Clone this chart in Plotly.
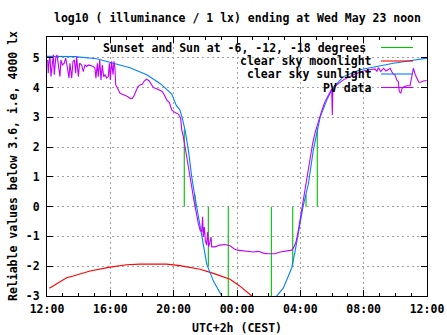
import pandas as pd
import plotly.graph_objects as go

BASE = pd.Timestamp("2018-05-22 12:00")

# ---------------- data (hours after Tue 12:00, log10 lux) ----------------
sun_hours = [0.0, 1.77, 3.14, 3.98, 5.24, 6.30, 7.14, 7.66, 7.88, 8.15, 8.40, 8.53, 8.72,
             8.93, 9.14, 9.35, 9.56, 9.77, 10.09, 10.51, 11.04, 11.56, 12.82, 14.09,
             14.51, 14.93, 15.46, 15.67, 15.84, 15.98, 16.17, 16.51, 16.82, 17.14, 17.25,
             17.67, 18.07, 18.72, 19.77, 20.83, 21.88, 22.93, 24.0]
sun_values = [5.05, 5.04, 4.97, 4.86, 4.67, 4.43, 4.14, 3.89, 3.78, 3.42, 3.24, 3.0, 2.57,
              1.9, 1.0, 0.31, -0.36, -0.92, -1.93, -2.5, -3.0, -3.4, -3.8, -3.6,
              -3.0, -2.73, -2.05, -1.49, -1.04, -0.58, 0.0, 0.77, 1.9, 2.68, 3.0,
              3.58, 4.0, 4.37, 4.60, 4.71, 4.82, 4.90, 4.99]

moon_hours = [0.15, 0.82, 1.24, 1.66, 2.51, 2.72, 3.98, 5.03, 5.87, 7.56, 8.40, 9.67,
              10.51, 11.56, 12.19, 12.93, 13.46]
moon_values = [-2.74, -2.53, -2.39, -2.33, -2.19, -2.16, -2.03, -1.95, -1.93, -1.93, -1.98,
               -2.1, -2.24, -2.44, -2.67, -3.0, -3.3]

event_hours = [8.67, 9.35, 10.19, 11.45, 14.17, 15.52, 16.36, 17.07]
event_levels = [2.6, 0.4, -2.0, -3.5, -3.5, -2.0, 0.4, 2.65]

pv_hours = [0.04, 0.08, 0.13, 0.19, 0.25, 0.34, 0.40, 0.46, 0.55, 0.63, 0.72, 0.82, 0.88,
            0.97, 1.09, 1.18, 1.26, 1.39, 1.45, 1.56, 1.64, 1.73, 1.81, 1.87, 1.98, 2.06,
            2.19, 2.29, 2.40, 2.51, 2.61, 2.78, 2.93, 3.03, 3.09, 3.18, 3.24, 3.33, 3.41,
            3.49, 3.58, 3.66, 3.77, 3.87, 3.94, 4.00, 4.08, 4.17, 4.23, 4.29, 4.34, 4.46,
            4.61, 4.76, 4.93, 5.09, 5.24, 5.39, 5.52, 5.60, 5.73, 5.87, 6.02, 6.15, 6.29,
            6.44, 6.57, 6.72, 6.93, 7.14, 7.28, 7.41, 7.56, 7.73, 7.88, 8.09, 8.30, 8.44,
            8.51, 8.61, 8.72, 8.82, 8.93, 9.03, 9.14, 9.24, 9.35, 9.46, 9.56, 9.67, 9.77,
            9.83, 9.87, 9.94, 10.0, 10.08, 10.15, 10.21, 10.36, 10.40, 10.61, 10.93, 11.24,
            11.56, 11.81, 12.02, 12.40, 12.82, 13.03, 13.35, 13.67, 13.98, 14.40, 14.72,
            15.14, 15.46, 15.60, 15.73, 15.84, 15.94, 16.05, 16.19, 16.34, 16.47, 16.61,
            16.78, 16.95, 17.16, 17.25, 17.37, 17.56, 17.88, 17.98, 18.02, 18.06, 18.30,
            18.72, 19.35, 19.98, 20.40, 20.72, 20.83, 20.93, 21.08, 21.25, 21.41, 21.56,
            21.67, 21.77, 21.88, 21.98, 22.09, 22.19, 22.25, 22.34, 22.43, 22.55, 22.72,
            22.93, 23.04, 23.14, 23.25, 23.35, 23.48, 23.60, 23.77, 23.98]
pv_values = [4.93, 4.48, 4.88, 5.04, 4.37, 4.93, 5.10, 4.43, 4.99, 5.10, 4.76, 4.37, 4.93,
             4.76, 4.82, 4.99, 4.76, 4.32, 4.82, 4.32, 4.88, 4.93, 4.48, 5.04, 4.37, 4.82,
             4.76, 4.54, 4.76, 4.71, 4.76, 4.74, 4.71, 4.65, 4.32, 4.82, 4.37, 4.93, 4.26,
             4.76, 4.37, 4.43, 4.32, 4.37, 4.82, 4.26, 4.88, 4.43, 4.88, 4.65, 4.09, 3.98,
             3.81, 3.78, 3.75, 3.70, 3.64, 3.64, 3.75, 3.87, 4.03, 4.09, 4.11, 4.23, 4.28,
             4.23, 4.11, 4.00, 3.96, 3.92, 3.87, 3.75, 3.59, 3.50, 3.25, 3.16, 3.11, 2.97,
             2.58, 2.35, 2.01, 1.79, 1.45, 1.00, 0.67, 0.33, 0.0, -0.23, -0.57, -0.79, -0.85,
             -0.34, -1.02, -0.68, -1.13, -1.29, -0.85, -1.35, -1.02, -1.35, -1.35, -1.29, -1.27,
             -1.31, -1.41, -1.46, -1.49, -1.50, -1.52, -1.50, -1.56, -1.58, -1.58, -1.52,
             -1.49, -1.46, -1.35, -1.18, -0.90, -0.57, -0.23, 0.22, 0.67, 1.12, 1.62,
             2.13, 2.52, 2.91, 3.08, 3.25, 3.53, 3.87, 3.95, 3.08, 3.97, 4.09,
             4.26, 4.43, 4.56, 4.60, 4.63, 4.54, 4.67, 4.54, 4.65, 4.56, 4.63,
             4.65, 4.54, 4.45, 4.43, 4.26, 4.20, 3.87, 3.81, 3.98, 4.03, 4.06,
             4.07, 4.32, 4.65, 4.45, 4.32, 4.18, 4.18, 4.22, 4.24]

y_ticks = [-3, -2, -1, 0, 1, 2, 3, 4, 5]
y_tick_labels = ["-3", "-2", "-1", "0", "1", "2", "3", "4", "5"]

title_text = "log10 ( illuminance / 1 lx) ending at Wed May 23 noon"
legend_names = ["Sunset and Sun at -6, -12, -18 degrees", "clear sky moonlight",
                "clear sky sunlight", "PV data"]

# ---------------- styling ----------------
GREEN, RED, BLUE, PURPLE = "#00c000", "#ff0000", "#0080ff", "#c000ff"
FONT = dict(family="DejaVu Sans Mono", size=11.5, color="black", weight="bold")
LW = 1.1


def to_time(hours):
    return [BASE + pd.Timedelta(hours=h) for h in hours]


ev_x, ev_y = [], []
for h, lvl in zip(event_hours, event_levels):
    t = BASE + pd.Timedelta(hours=h)
    ev_x += [t, t, None]
    ev_y += [0, lvl, None]

fig = go.Figure()
fig.add_trace(go.Scatter(x=ev_x, y=ev_y, mode="lines", name=legend_names[0],
                         line=dict(color=GREEN, width=LW)))
fig.add_trace(go.Scatter(x=to_time(moon_hours), y=moon_values, mode="lines",
                         name=legend_names[1], line=dict(color=RED, width=LW)))
fig.add_trace(go.Scatter(x=to_time(sun_hours), y=sun_values, mode="lines",
                         name=legend_names[2], line=dict(color=BLUE, width=LW)))
fig.add_trace(go.Scatter(x=to_time(pv_hours), y=pv_values, mode="lines",
                         name=legend_names[3], line=dict(color=PURPLE, width=LW)))

# plot area geometry (px) used for legend placement
L, R, T, B = 47, 427, 37, 296
W, H = R - L, B - T


def px(x):
    return (x - L) / W


def py(y):
    return (B - y) / H


shapes = [dict(type="rect", xref="paper", yref="paper", x0=px(98), x1=px(421),
               y0=py(92), y1=1, fillcolor="white", line=dict(width=0), layer="between")]
annotations = []
legend_colors = [GREEN, RED, BLUE, PURPLE]
legend_rows = [47.5, 61, 74, 87.5]
legend_text_right = [367, 373, 373, 373]
for name, col, yr, xr in zip(legend_names, legend_colors, legend_rows, legend_text_right):
    annotations.append(dict(text=name, xref="paper", yref="paper", x=px(xr), y=py(yr),
                            xanchor="right", yanchor="middle", showarrow=False, font=FONT,
                            borderpad=0))
    shapes.append(dict(type="line", xref="paper", yref="paper", x0=px(381), x1=px(413),
                       y0=py(yr), y1=py(yr), line=dict(color=col, width=LW), layer="above"))

annotations.append(dict(text=title_text, xref="paper", yref="paper", x=0.5, y=py(17.5),
                        xanchor="center", yanchor="middle", showarrow=False, font=FONT))
annotations.append(dict(text="UTC+2h (CEST)", xref="paper", yref="paper", x=0.5, y=py(327.5),
                        xanchor="center", yanchor="middle", showarrow=False, font=FONT))
annotations.append(dict(text="Reliable values below 3.6, i.e, 4000 lx", xref="paper",
                        yref="paper", x=px(13), y=py(166), textangle=-90,
                        xanchor="center", yanchor="middle", showarrow=False, font=FONT))

grid_style = dict(showgrid=True, gridcolor="#a0a0a0", gridwidth=1, griddash="2px,3px")

fig.update_layout(
    width=447, height=335, autosize=False,
    margin=dict(l=L, r=447 - R, t=T, b=335 - B, pad=0, autoexpand=False),
    paper_bgcolor="white", plot_bgcolor="white",
    showlegend=False,
    font=FONT,
    shapes=shapes, annotations=annotations,
    xaxis=dict(type="date", automargin=False,
               range=[BASE, BASE + pd.Timedelta(hours=24)],
               dtick=4 * 3600 * 1000, tick0=BASE, tickformat="%H:%M",
               ticks="inside", ticklen=6, tickcolor="black", tickwidth=1,
               ticklabelstandoff=2,
               minor=dict(dtick=3600 * 1000, ticks="inside", ticklen=3,
                          tickcolor="black", showgrid=False),
               showline=True, linecolor="black", linewidth=1, mirror="ticks",
               zeroline=False, tickfont=FONT, **grid_style),
    yaxis=dict(range=[-3, 5.7], tickvals=y_ticks, ticktext=y_tick_labels, automargin=False,
               ticks="inside", ticklen=6, tickcolor="black", tickwidth=1,
               ticklabelstandoff=4,
               showline=True, linecolor="black", linewidth=1, mirror="ticks",
               zeroline=False, tickfont=FONT, **grid_style),
)

fig.write_html("out.html")
